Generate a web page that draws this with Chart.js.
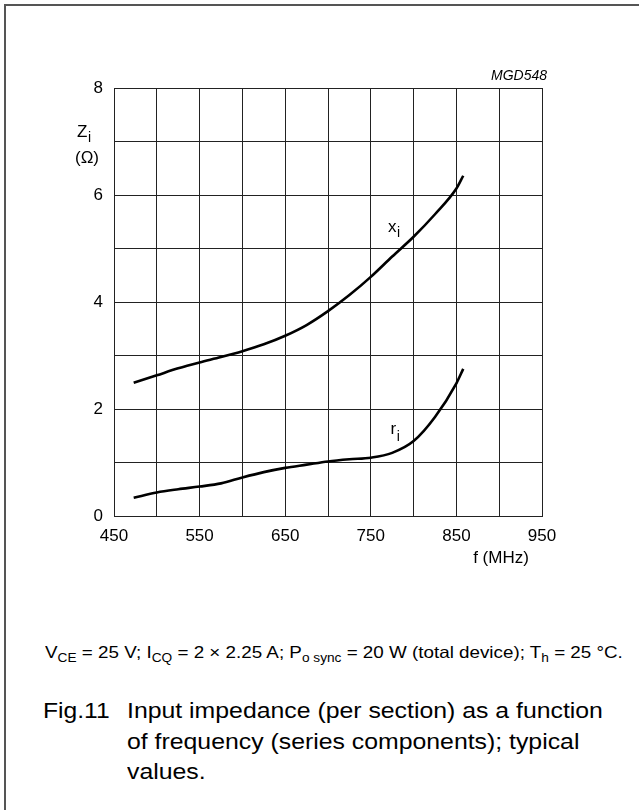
<!DOCTYPE html>
<html>
<head>
<meta charset="utf-8">
<script src="https://cdn.jsdelivr.net/npm/chart.js@4.4.0/dist/chart.umd.min.js"></script>
<style>
  body { margin: 0; background: #fff; overflow: hidden; width: 639px; height: 810px; }
  #frame { position: absolute; left: 4px; top: 4px; width: 800px; height: 1000px;
           border-left: 2px solid #555; border-top: 2px solid #555; }
  #wrap { position: absolute; left: 0; top: 0; width: 639px; height: 600px; }
  .txt { position: absolute; font-family: "Liberation Sans", Arial, sans-serif; color: #000;
         white-space: nowrap; transform-origin: 0 0; }
  #cond { left: 45px; top: 642px; font-size: 16.5px; line-height: 20px; transform: scaleX(1.14); }
  #cond sub { font-size: 12px; vertical-align: -4px; line-height: 0; }
  #fig { left: 43px; top: 696px; font-size: 22px; line-height: 30.7px; transform: scaleX(1.12); }
  #cap { left: 127px; top: 696px; font-size: 22px; line-height: 30.7px; transform: scaleX(1.128); }
</style>
</head>
<body>
<div id="frame"></div>
<div id="wrap"><canvas id="myChart" width="639" height="600"></canvas></div>
<div class="txt" id="cond">V<sub>CE</sub> = 25 V; I<sub>CQ</sub> = 2 × 2.25 A; P<sub>o sync</sub> = 20 W (total device); T<sub>h</sub> = 25 °C.</div>
<div class="txt" id="fig">Fig.11</div>
<div class="txt" id="cap">Input impedance (per section) as a function<br>of frequency (series components); typical<br>values.</div>
<script>
// values (f in MHz, impedance in ohm)
const freq = [473, 500, 525, 550, 575, 600, 625, 650, 675, 700, 725, 750, 775, 800, 825, 850, 858];
const xi = [2.49, 2.63, 2.76, 2.87, 2.97, 3.08, 3.21, 3.37, 3.57, 3.83, 4.13, 4.47, 4.85, 5.22, 5.64, 6.12, 6.36];
const ri = [0.34, 0.44, 0.50, 0.55, 0.61, 0.72, 0.82, 0.90, 0.96, 1.02, 1.06, 1.09, 1.18, 1.40, 1.85, 2.48, 2.75];
const xTickLabels = [450, 550, 650, 750, 850, 950];
const yTickLabels = [0, 2, 4, 6, 8];

const FONT = '"Liberation Sans", Arial, sans-serif';

function toPoints(ys) {
    return freq.map((f, i) => ({ x: f, y: ys[i] }));
}

// text inside / around the plot
const labels = {
    id: 'labels',
    afterDraw(chart) {
        const c = chart.ctx;
        const sx = chart.scales.x, sy = chart.scales.y;
        c.save();
        c.fillStyle = '#000';
        c.textBaseline = 'alphabetic';

        const sub = (main, s, x, y, dy) => {
            c.font = '17px ' + FONT;
            c.textAlign = 'left';
            c.fillText(main, x, y);
            const w = c.measureText(main).width;
            c.font = '14px ' + FONT;
            c.fillText(s, x + w + 0.5, y + dy);
        };

        sub('Z', 'i', 77, 137, 5);
        c.font = '17px ' + FONT;
        c.textAlign = 'center';
        c.fillText('(\u03A9)', 87, 163);

        c.font = 'italic 14px ' + FONT;
        c.textAlign = 'right';
        c.fillText('MGD548', 547, 80);

        c.font = '17px ' + FONT;
        c.textAlign = 'center';
        c.fillText('f (MHz)', 501, 563);

        sub('x', 'i', sx.getPixelForValue(770), sy.getPixelForValue(5.3), 5);
        sub('r', 'i', sx.getPixelForValue(773), sy.getPixelForValue(1.53), 7);
        c.restore();
    }
};

const ctx = document.getElementById('myChart').getContext('2d');
const myChart = new Chart(ctx, {
    type: 'line',
    data: {
        datasets: [{
            label: 'xi',
            data: toPoints(xi),
            borderColor: '#000',
            borderWidth: 2.6,
            pointRadius: 0,
            cubicInterpolationMode: 'monotone',
            fill: false,
        }, {
            label: 'ri',
            data: toPoints(ri),
            borderColor: '#000',
            borderWidth: 2.6,
            pointRadius: 0,
            cubicInterpolationMode: 'monotone',
            fill: false,
        }],
    },
    options: {
        responsive: false,
        animation: false,
        layout: { padding: { left: 0, right: 97, top: 88, bottom: 44 } },
        plugins: { legend: { display: false }, tooltip: { enabled: false } },
        scales: {
            x: {
                type: 'linear',
                min: 450,
                max: 950,
                afterFit: s => { s.height = 40; },
                grid: { color: '#222', lineWidth: 1, drawTicks: false },
                border: { color: '#222', width: 1 },
                ticks: {
                    stepSize: 50,
                    autoSkip: false,
                    maxRotation: 0,
                    padding: 10,
                    color: '#000',
                    font: { family: FONT, size: 17 },
                    callback: v => xTickLabels.includes(v) ? String(v) : '',
                },
            },
            y: {
                type: 'linear',
                min: 0,
                max: 8,
                afterFit: s => { s.width = 114; },
                grid: { color: '#222', lineWidth: 1, drawTicks: false },
                border: { color: '#222', width: 1 },
                ticks: {
                    stepSize: 1,
                    autoSkip: false,
                    padding: 11,
                    color: '#000',
                    font: { family: FONT, size: 17 },
                    callback: v => yTickLabels.includes(v) ? String(v) : '',
                },
            },
        },
    },
    plugins: [labels],
});
</script>
</body>
</html>
